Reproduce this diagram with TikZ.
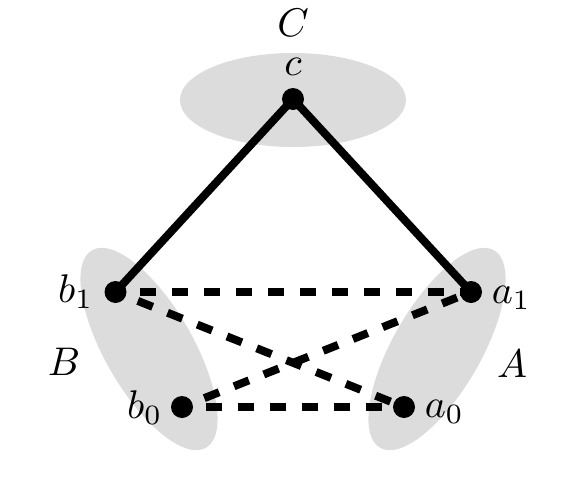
\documentclass[tikz,border=0pt]{standalone}
\begin{document}
\begin{tikzpicture}[x=1pt,y=-1pt,
  blob/.style={fill=ellgray,draw=none},
  dot/.style={circle,fill=black,inner sep=0pt,minimum size=22pt},
  edge/.style={line width=8pt},
  dedge/.style={line width=8pt,dash pattern=on 16pt off 16pt,dash phase=8pt},
  lab/.style={inner sep=0pt,scale=4}]
\definecolor{ellgray}{RGB}{220,220,220}
\useasboundingbox (0,0) rectangle (587,493);
% ellipses
\fill[blob] (293,100) ellipse [x radius=113pt, y radius=47pt];
\fill[blob,rotate around={-60:(149,349)}] (149,349) ellipse [x radius=114pt, y radius=44pt];
\fill[blob,rotate around={60:(437,349)}] (437,349) ellipse [x radius=114pt, y radius=44pt];
% vertex positions
\coordinate (c) at (293,99);
\coordinate (b1) at (115.5,292);
\coordinate (a1) at (471,292);
\coordinate (b0) at (182,407);
\coordinate (a0) at (404,407);
% edges
\draw[edge] (c) -- (b1);
\draw[edge] (c) -- (a1);
\draw[dedge] (b1) -- (a1);
\draw[dedge] (b0) -- (a0);
\draw[dedge] (b1) -- (a0);
\draw[dedge] (b0) -- (a1);
% dots
\node[dot] (nc) at (c) {};
\node[dot] (nb1) at (b1) {};
\node[dot] (na1) at (a1) {};
\node[dot] (nb0) at (b0) {};
\node[dot] (na0) at (a0) {};
% labels
\node[lab,anchor=base] (lC) at (293,36) {$C$};
\node[lab,anchor=base] (lc) at (293,75) {$c$};
\node[lab,anchor=base east] (lb1) at (94,302) {$b_1$};
\node[lab,anchor=base east] (lb0) at (163,418) {$b_0$};
\node[lab,anchor=base west] (la1) at (491,303) {$a_1$};
\node[lab,anchor=base west] (la0) at (424,417) {$a_0$};
\node[lab,anchor=base] (lB) at (64,375) {$B$};
\node[lab,anchor=base] (lA) at (512,377) {$A$};
\end{tikzpicture}
\end{document}
